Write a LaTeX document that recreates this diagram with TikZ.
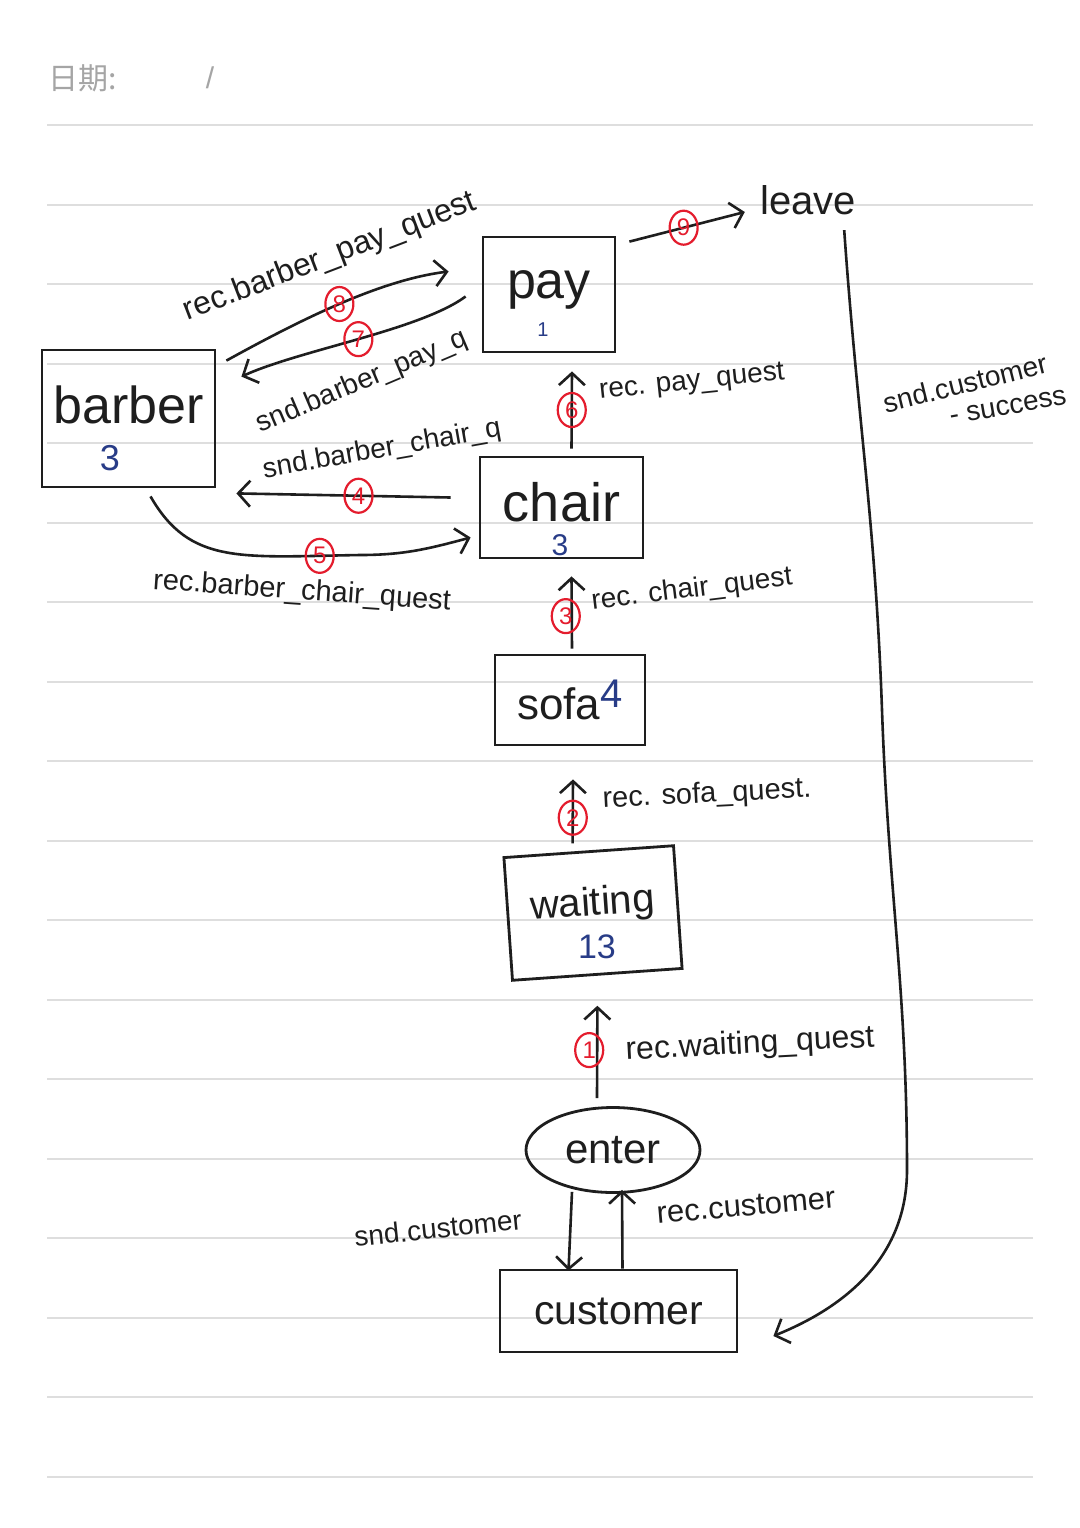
\documentclass[tikz,border=0pt]{standalone}
\usepackage{fontspec}
\setmainfont{Liberation Sans}
\newfontfamily\cjk{Noto Sans CJK SC}
\usetikzlibrary{arrows.meta,calc,shapes.geometric}
\definecolor{rulec}{RGB}{222,222,222}
\definecolor{ink}{RGB}{30,30,30}
\definecolor{redc}{RGB}{228,28,45}
\definecolor{numblue}{RGB}{40,60,135}
\definecolor{hdr}{RGB}{165,165,165}
\newcommand{\fsz}[1]{\fontsize{#1}{#1}\selectfont}
\begin{document}
\begin{tikzpicture}[x=0.5pt,y=-0.5pt,
  box/.style={draw=ink,line width=1.4pt,inner sep=0pt,text=ink},
  word/.style={text=ink,inner sep=0pt},
  num/.style={text=numblue,inner sep=0pt},
  lab/.style={text=ink,inner sep=1pt,font=\fsz{14}},
  rn/.style={ellipse,draw=redc,line width=1.1pt,text=redc,minimum width=14pt,minimum height=17pt,inner sep=0pt,font=\fsz{12}},
  arr/.style={draw=ink,line width=1.3pt,-{Straight Barb[length=6pt,width=13pt]}},
  ruleline/.style={draw=rulec,line width=1pt}]
\useasboundingbox (0,0) rectangle (1080,1528);
\fill[white] (0,0) rectangle (1080,1528);
\foreach \k in {0,...,17}
  \draw[ruleline] (47,{125+79.5*\k}) -- (1033,{125+79.5*\k});
% header
\node[text=hdr,font=\cjk\fsz{15},anchor=west,inner sep=0pt] (date) at (48,78) {日期:};
\node[text=hdr,font=\fsz{15},inner sep=0pt] (slash) at (210,78) {/};
% boxes
\node[box,font=\fsz{26},minimum width=86.5pt,minimum height=68.5pt,text depth=14pt] (barber) at (128.5,418.5) {barber};
\node[num,font=\fsz{18}] (barbern) at (110,458) {3};
\node[box,font=\fsz{26},minimum width=66pt,minimum height=57.5pt,text depth=10pt] (pay) at (549,294.5) {pay};
\node[num,font=\fsz{10}] (payn) at (543,330) {1};
\node[box,font=\fsz{27},minimum width=81.5pt,minimum height=50.5pt,text depth=6pt] (chair) at (561.5,507.5) {chair};
\node[num,font=\fsz{15}] (chairn) at (560,545) {3};
\node[box,font=\fsz{22},minimum width=75pt,minimum height=45pt] (sofa) at (570,700) {sofa\raisebox{6pt}{\color{numblue}\fsz{20}4}};
\node[box,font=\fsz{20},minimum width=85pt,minimum height=61.5pt,rotate=4,text depth=12pt] (waiting) at (593,913) {waiting};
\node[num,font=\fsz{17}] (waitingn) at (597,947) {13};
\node[box,ellipse,font=\fsz{21},minimum width=87pt,minimum height=42.5pt] (enter) at (613,1150) {enter};
\node[box,font=\fsz{20.5},minimum width=118.5pt,minimum height=41pt] (customer) at (618.5,1311) {customer};
\node[word,font=\fsz{20}] (leave) at (808,200) {leave};
% vertical chain
\draw[arr] ($(enter.north)+(-16,-8)$) -- node[rn,pos=0.52,xshift=-4pt] (r1) {1} ($(waiting.south)+(0,30)$);
\draw[arr] ($(waiting.north)+(-16,-7)$) -- node[rn,pos=0.4] (r2) {2} ($(sofa.south)+(3,33)$);
\draw[arr] ($(sofa.north)+(2,-5)$) -- node[rn,pos=0.45,xshift=-3pt] (r3) {3} ($(chair.south)+(10,17)$);
\draw[arr] ($(chair.north)+(10,-7)$) -- node[rn,pos=0.5] (r6) {6} ($(pay.south)+(23,18)$);
\node[lab,font=\fsz{16},rotate=3] (l1) at (750,1045) {rec.waiting\_quest};
\node[lab,font=\fsz{14.5},rotate=3] (l2) at (707,795) {rec. sofa\_quest.};
\node[lab,rotate=7] (l3) at (692,590) {rec. chair\_quest};
\node[lab,rotate=6] (l6) at (692,383) {rec. pay\_quest};
% barber <-> chair
\draw[arr] ($(chair.west)+(-28,-10)$) -- node[rn,pos=0.43] (r4) {4} ($(barber.south east)+(20,5)$);
\node[lab,rotate=10] (l4) at (382,450) {snd.barber\_chair\_q};
\draw[arr] ($(barber.south)+(22,8)$) .. controls (190,565) and (240,557) .. (360,555) node[rn,pos=0.88] (r5) {5} to[out=0,in=195] ($(chair.west)+(-8,30)$);
\node[lab,font=\fsz{14.5},rotate=-4] (l5) at (302,592) {rec.barber\_chair\_quest};
% barber <-> pay
\draw[arr] ($(pay.west)+(-16,2)$) .. controls (420,330) and (300,350) .. node[rn,pos=0.5] (r7) {7} ($(barber.north east)+(25,28)$);
\node[lab,rotate=23] (l7) at (362,382) {snd.barber\_pay\_q};
\draw[arr] ($(barber.north east)+(10,12)$) .. controls (300,320) and (380,280) .. node[rn,pos=0.5] (r8) {8} ($(pay.west)+(-33,-23)$);
\node[lab,font=\fsz{16},rotate=21] (l8) at (330,257) {rec.barber\_pay\_quest};
% pay -> leave
\draw[arr] ($(pay.north east)+(13,6)$) -- node[rn,pos=0.47] (r9) {9} ($(leave.west)+(-15,12)$);
% leave -> customer
\draw[arr] ($(leave.south east)+(-12,15)$) to[out=-86,in=92] (882,710) to[out=-88,in=90] (907,1170) to[out=-90,in=22] ($(customer.east)+(35,25)$);
\node[lab,rotate=14] (lsc1) at (965,383) {snd.customer};
\node[lab,rotate=10] (lsc2) at (1008,407) {- success};
% enter <-> customer
\draw[arr] ($(enter.south)+(-41,-2)$) -- ($(customer.north)+(-50,2)$);
\draw[arr] ($(customer.north)+(4,0)$) -- ($(enter.south)+(9,-4)$);
\node[lab,rotate=6] (lsnd) at (438,1228) {snd.customer};
\node[lab,font=\fsz{15.5},rotate=5] (lrec) at (746,1206) {rec.customer};
\end{tikzpicture}
\end{document}
